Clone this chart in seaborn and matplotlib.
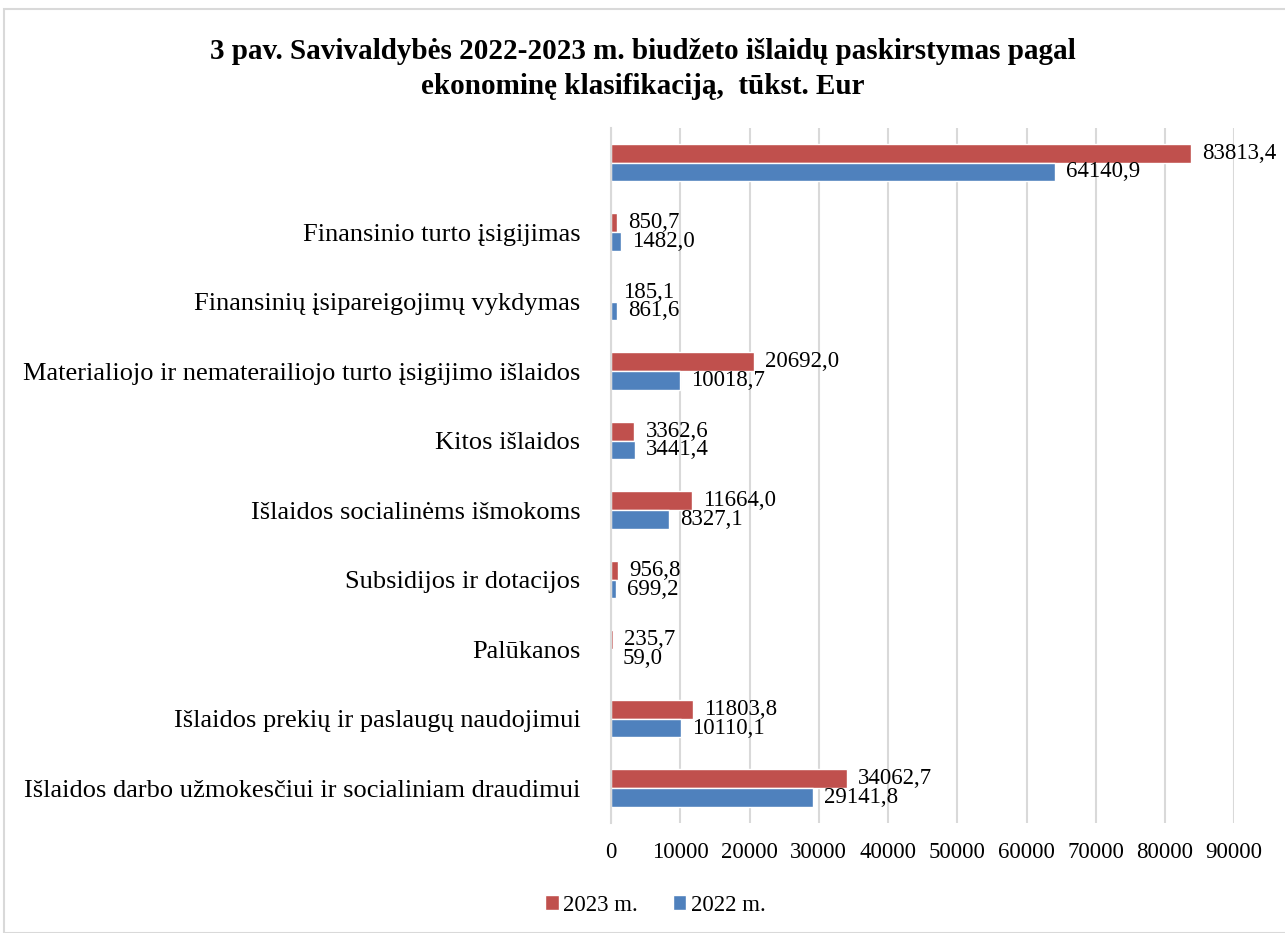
import matplotlib
matplotlib.use("Agg")
import matplotlib.pyplot as plt
import seaborn as sns
import pandas as pd
from matplotlib.patches import Rectangle

# Categories from top to bottom (first one has no label in the original)
categories = [
    " ",
    "Finansinio turto įsigijimas",
    "Finansinių įsipareigojimų vykdymas",
    "Materialiojo ir nematerailiojo turto įsigijimo išlaidos",
    "Kitos išlaidos",
    "Išlaidos socialinėms išmokoms",
    "Subsidijos ir dotacijos",
    "Palūkanos",
    "Išlaidos prekių ir paslaugų naudojimui",
    "Išlaidos darbo užmokesčiui ir socialiniam draudimui",
]
values_2023 = [83813.4, 850.7, 185.1, 20692.0, 3362.6, 11664.0, 956.8, 235.7, 11803.8, 34062.7]
values_2022 = [64140.9, 1482.0, 861.6, 10018.7, 3441.4, 8327.1, 699.2, 59.0, 10110.1, 29141.8]
series = ["2023 m.", "2022 m."]
colors = ["#c0504d", "#4f81bd"]
x_ticks = [0, 10000, 20000, 30000, 40000, 50000, 60000, 70000, 80000, 90000]

df = pd.DataFrame({
    "kategorija": categories * 2,
    "reiksme": values_2023 + values_2022,
    "metai": [series[0]] * len(categories) + [series[1]] * len(categories),
})

sns.set_style("white")
plt.rcParams["font.family"] = ["Liberation Serif", "DejaVu Serif"]
plt.rcParams["text.color"] = "black"
plt.rcParams["xtick.color"] = "black"
plt.rcParams["ytick.color"] = "black"
plt.rcParams["axes.labelcolor"] = "black"

fig = plt.figure(figsize=(12.85, 9.33), dpi=100)
ax = fig.add_axes([0.4755, 0.118, 0.485, 0.745])

sns.barplot(
    data=df, y="kategorija", x="reiksme", hue="metai", hue_order=series,
    order=categories, palette=colors, orient="h", width=0.54,
    saturation=1, ax=ax, legend=True,
)

# value labels with comma decimals
for container in ax.containers:
    labels = [f"{v:.1f}".replace(".", ",") for v in container.datavalues]
    ax.bar_label(container, labels=labels, padding=8, fontsize=16.5, color="black")

ax.set_xlim(0, 90000)
ax.set_xticks(x_ticks)
ax.set_xticklabels([str(t) for t in x_ticks], fontsize=16.5)
ax.tick_params(axis="x", length=0, pad=14, colors="black")
ax.tick_params(axis="y", labelsize=19, length=0, pad=22, colors="black")
ax.set_xlabel("")
ax.set_ylabel("")
ax.xaxis.grid(True, color="#d9d9d9", linewidth=1.5)
ax.set_axisbelow(True)
for side in ["top", "right", "bottom"]:
    ax.spines[side].set_visible(False)
ax.spines["left"].set_color("#d9d9d9")
ax.spines["left"].set_linewidth(1.5)

# small category separator ticks on the left axis
ax.set_yticks([i + 0.5 for i in range(-1, len(categories))], minor=True)
ax.tick_params(axis="y", which="minor", length=6, color="#d9d9d9", width=1.5)

handles, labels = ax.get_legend_handles_labels()
ax.legend_.remove()
fig.legend(handles, labels, loc="center", bbox_to_anchor=(0.51, 0.03), ncol=2,
           frameon=False, fontsize=16.5, handlelength=0.6, handleheight=0.6,
           handletextpad=0.2, columnspacing=1.5)

fig.text(0.5, 0.926, "3 pav. Savivaldybės 2022-2023 m. biudžeto išlaidų paskirstymas pagal\n"
         "ekonominę klasifikaciją,  tūkst. Eur", ha="center", va="center",
         fontsize=21, fontweight="bold", linespacing=1.4)

fig.patches.append(Rectangle((0.003, 0.0), 1.2, 0.99, transform=fig.transFigure,
                             fill=False, edgecolor="#d9d9d9", linewidth=1.5))

fig.savefig("out.png", dpi=100)
